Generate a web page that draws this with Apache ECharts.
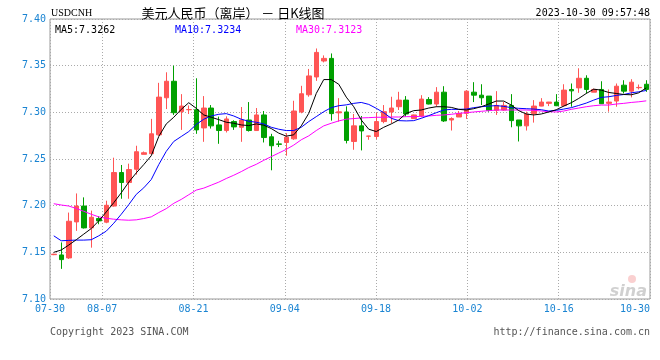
<!DOCTYPE html>
<html>
<head>
<meta charset="utf-8">
<script src="https://cdn.jsdelivr.net/npm/echarts@6/dist/echarts.min.js"></script>
<style>html,body{margin:0;padding:0;background:#fff;}#c{width:660px;height:360px;}</style>
</head>
<body>
<div id="c"></div>
<script>
// ---- data ----
const opens  = [7.1475,7.1472,7.1440,7.1826,7.1996,7.1762,7.1862,7.1823,7.1996,7.2355,
                7.2248,7.2390,7.2550,7.2557,7.2759,7.3156,7.3333,7.3007,7.3028,7.3028,
                7.2833,7.3046,7.2865,7.2805,7.2901,7.2840,7.2918,7.2805,7.2972,7.2738,
                7.2662,7.2677,7.2716,7.3004,7.3188,7.3379,7.3550,7.3578,7.2995,7.3004,
                7.2688,7.2855,7.2744,7.2741,7.2901,7.3004,7.3060,7.3131,7.2933,7.2961,
                7.3138,7.3089,7.3216,7.2918,7.2950,7.2989,7.3216,7.3184,7.3174,7.3021,
                7.3025,7.3074,7.2918,7.2855,7.2986,7.3067,7.3096,7.3110,7.3071,7.3245,
                7.3262,7.3365,7.3216,7.3245,7.3096,7.3121,7.3291,7.3227,7.3264,7.3301];
const closes = [7.1480,7.1422,7.1833,7.1996,7.1762,7.1876,7.1837,7.2004,7.2355,7.2248,
                7.2387,7.2578,7.2567,7.2770,7.3163,7.3333,7.2996,7.3067,7.3030,7.2812,
                7.3046,7.2855,7.2805,7.2929,7.2844,7.2918,7.2805,7.2972,7.2730,7.2642,
                7.2657,7.2734,7.3014,7.3199,7.3390,7.3642,7.3578,7.2986,7.3005,7.2699,
                7.2855,7.2801,7.2746,7.2901,7.3007,7.3046,7.3131,7.2982,7.2972,7.3142,
                7.3089,7.3216,7.2908,7.2933,7.2989,7.3227,7.3184,7.3156,7.3021,7.3074,
                7.3074,7.2911,7.2855,7.2982,7.3067,7.3110,7.3110,7.3071,7.3238,7.3230,
                7.3365,7.3245,7.3245,7.3092,7.3110,7.3280,7.3227,7.3323,7.3267,7.3245];
const lows   = [7.1470,7.1323,7.1429,7.1730,7.1755,7.1550,7.1801,7.1812,7.1990,7.2074,
                7.2074,7.2333,7.2550,7.2557,7.2748,7.3035,7.2972,7.2812,7.2982,7.2770,
                7.2684,7.2826,7.2663,7.2784,7.2812,7.2684,7.2794,7.2805,7.2677,7.2379,
                7.2628,7.2535,7.2706,7.2990,7.3167,7.3337,7.3535,7.2911,7.2900,7.2667,
                7.2599,7.2592,7.2706,7.2713,7.2883,7.2883,7.3025,7.2954,7.2930,7.2947,
                7.3085,7.3060,7.2897,7.2805,7.2950,7.2929,7.3110,7.3078,7.3007,7.2972,
                7.3018,7.2840,7.2688,7.2805,7.2890,7.3065,7.3067,7.3067,7.3060,7.3060,
                7.3209,7.3202,7.3216,7.3089,7.3007,7.3060,7.3202,7.3160,7.3245,7.3220];
const highs  = [7.1485,7.1606,7.1926,7.2131,7.2089,7.1947,7.1887,7.2053,7.2514,7.2436,
                7.2450,7.2642,7.2580,7.2930,7.3316,7.3429,7.3500,7.3195,7.3074,7.3365,
                7.3174,7.3078,7.2954,7.2957,7.2915,7.3057,7.3110,7.3046,7.3014,7.2770,
                7.2695,7.2777,7.3124,7.3284,7.3465,7.3684,7.3610,7.3631,7.3152,7.3064,
                7.2982,7.2961,7.2748,7.2996,7.3078,7.3167,7.3220,7.3174,7.2975,7.3184,
                7.3163,7.3270,7.3280,7.2947,7.3014,7.3238,7.3323,7.3301,7.3174,7.3227,
                7.3113,7.3195,7.2918,7.3007,7.3131,7.3152,7.3112,7.3195,7.3301,7.3309,
                7.3472,7.3397,7.3255,7.3333,7.3245,7.3309,7.3344,7.3355,7.3298,7.3344];
const ma5  = [7.1500,7.1525,7.1578,7.1635,7.1695,7.1755,7.1837,7.1933,7.2032,7.2138,
              7.2252,7.2351,7.2440,7.2535,7.2741,7.2876,7.2947,7.3032,7.3103,7.3043,
              7.2972,7.2947,7.2922,7.2894,7.2883,7.2865,7.2858,7.2876,7.2862,7.2826,
              7.2777,7.2745,7.2759,7.2855,7.2989,7.3202,7.3351,7.3351,7.3301,7.3163,
              7.3060,7.2918,7.2819,7.2794,7.2840,7.2876,7.2918,7.2989,7.3018,7.3025,
              7.3046,7.3060,7.3060,7.3053,7.3032,7.3025,7.3039,7.3060,7.3089,7.3121,
              7.3121,7.3078,7.3018,7.2982,7.2972,7.2982,7.3004,7.3028,7.3067,7.3103,
              7.3149,7.3202,7.3248,7.3238,7.3213,7.3202,7.3191,7.3188,7.3209,7.3262];
const ma10 = [7.1677,7.1624,7.1628,7.1631,7.1631,7.1635,7.1677,7.1727,7.1812,7.1908,
              7.2011,7.2121,7.2191,7.2280,7.2440,7.2582,7.2688,7.2741,7.2794,7.2870,
              7.2926,7.2961,7.2979,7.2986,7.2961,7.2926,7.2904,7.2894,7.2876,7.2840,
              7.2819,7.2805,7.2805,7.2840,7.2901,7.2954,7.3007,7.3050,7.3071,7.3080,
              7.3096,7.3106,7.3085,7.3043,7.2996,7.2936,7.2911,7.2908,7.2911,7.2936,
              7.2965,7.2996,7.3025,7.3032,7.3032,7.3035,7.3050,7.3060,7.3067,7.3072,
              7.3064,7.3050,7.3043,7.3039,7.3035,7.3028,7.3014,7.3021,7.3035,7.3050,
              7.3074,7.3099,7.3131,7.3160,7.3167,7.3181,7.3191,7.3209,7.3220,7.3234];
const ma30 = [7.2021,7.2007,7.1996,7.1970,7.1940,7.1908,7.1880,7.1865,7.1855,7.1848,
              7.1844,7.1848,7.1862,7.1880,7.1926,7.1968,7.2025,7.2067,7.2117,7.2167,
              7.2188,7.2220,7.2252,7.2291,7.2326,7.2365,7.2408,7.2443,7.2486,7.2525,
              7.2564,7.2603,7.2649,7.2706,7.2748,7.2805,7.2855,7.2883,7.2908,7.2927,
              7.2933,7.2940,7.2943,7.2947,7.2947,7.2950,7.2950,7.2954,7.2954,7.2957,
              7.2961,7.2968,7.2972,7.2979,7.2989,7.2996,7.3004,7.3011,7.3018,7.3025,
              7.3025,7.3025,7.3025,7.3025,7.3021,7.3014,7.3007,7.3004,7.3014,7.3032,
              7.3046,7.3060,7.3071,7.3078,7.3078,7.3089,7.3096,7.3106,7.3113,7.3123];
// x-axis labels: calendar days since 07-30
const tickDays   = [0, 8, 22, 36, 50, 64, 78, 92];
const tickLabels = ['07-30','08-07','08-21','09-04','09-18','10-02','10-16','10-30'];
const yMin = 7.10, yMax = 7.40, yStep = 0.05;

// ---- chart ----
const candles = opens.map((o, i) => [o, closes[i], lows[i], highs[i]]);
const cats = opens.map((_, i) => String(i));
const blue = '#1a84d2';
const mono = '"DejaVu Sans Mono", "Liberation Mono", monospace';
const gridCol = '#aaaaaa';

const chart = echarts.init(document.getElementById('c'), null, {renderer: 'canvas'});
const dayToLabel = {};
tickDays.forEach((d, i) => { dayToLabel[d] = tickLabels[i]; });

chart.setOption({
  animation: false,
  backgroundColor: '#ffffff',
  grid: {left: 50, top: 19, right: 10, bottom: 61, show: true, borderColor: '#9a9a9a', borderWidth: 1, backgroundColor: 'transparent'},
  xAxis: [
    {type: 'category', data: cats, boundaryGap: true, show: false, gridIndex: 0},
    {type: 'value', min: 0, max: 92, gridIndex: 0, position: 'bottom',
     axisLine: {show: false},
     axisTick: {show: false, customValues: tickDays},
     axisLabel: {customValues: tickDays, color: blue, fontFamily: mono, fontSize: 10, margin: 5,
                 alignMaxLabel: 'right',
                 formatter: v => dayToLabel[Math.round(v)] || ''},
     splitLine: {show: true, lineStyle: {color: gridCol, type: [1, 2], width: 1}}}
  ],
  yAxis: {type: 'value', min: yMin, max: yMax, interval: yStep, scale: true,
          axisLine: {show: false}, axisTick: {show: false},
          axisLabel: {color: blue, fontFamily: mono, fontSize: 10, margin: 4, formatter: v => v.toFixed(2)},
          splitLine: {show: true, lineStyle: {color: gridCol, type: [1, 2], width: 1}}},
  series: [
    {type: 'candlestick', xAxisIndex: 0, data: candles, barWidth: 5,
     itemStyle: {color: '#ff5555', color0: '#00a000', borderColor: '#ff5555', borderColor0: '#00a000', borderWidth: 1}},
    {type: 'line', xAxisIndex: 0, data: ma30, symbol: 'none', lineStyle: {color: '#ff00ff', width: 1}, z: 3},
    {type: 'line', xAxisIndex: 0, data: ma10, symbol: 'none', lineStyle: {color: '#0000ff', width: 1}, z: 3},
    {type: 'line', xAxisIndex: 0, data: ma5, symbol: 'none', lineStyle: {color: '#000000', width: 1}, z: 3}
  ],
  graphic: [
    {type: 'text', x: 51, y: 13, style: {text: 'USDCNH', font: '10px "Liberation Serif", serif', fill: '#000', textVerticalAlign: 'middle'}},
    {type: 'text', x: 233, y: 13, style: {text: '美元人民币（离岸） － 日K线图', font: '13px "Noto Sans CJK SC"', fill: '#000', textAlign: 'center', textVerticalAlign: 'middle'}},
    {type: 'text', x: 650, y: 13, style: {text: '2023-10-30 09:57:48', font: '10px ' + mono, fill: '#000', textAlign: 'right', textVerticalAlign: 'middle'}},
    {type: 'text', x: 55, y: 30, z: 10, style: {text: 'MA5:' + ma5[ma5.length - 1].toFixed(4), font: '10px ' + mono, fill: '#000', textVerticalAlign: 'middle'}},
    {type: 'text', x: 175, y: 30, z: 10, style: {text: 'MA10:' + ma10[ma10.length - 1].toFixed(4), font: '10px ' + mono, fill: '#0000ff', textVerticalAlign: 'middle'}},
    {type: 'text', x: 296, y: 30, z: 10, style: {text: 'MA30:' + ma30[ma30.length - 1].toFixed(4), font: '10px ' + mono, fill: '#ff00ff', textVerticalAlign: 'middle'}},
    {type: 'text', x: 50, y: 332, style: {text: 'Copyright 2023 SINA.COM', font: '10px ' + mono, fill: '#555', textVerticalAlign: 'middle'}},
    {type: 'text', x: 650, y: 332, style: {text: 'http://finance.sina.com.cn', font: '10px ' + mono, fill: '#555', textAlign: 'right', textVerticalAlign: 'middle'}},
    {type: 'circle', shape: {cx: 632, cy: 279, r: 4}, style: {fill: 'rgba(240,120,120,0.35)'}, z: 1},
    {type: 'text', x: 647, y: 292, z: 1, style: {text: 'sina', font: 'italic bold 16px "DejaVu Sans", sans-serif', fill: 'rgba(170,170,170,0.55)', textAlign: 'right', textVerticalAlign: 'middle'}}
  ]
});
</script>
</body>
</html>
